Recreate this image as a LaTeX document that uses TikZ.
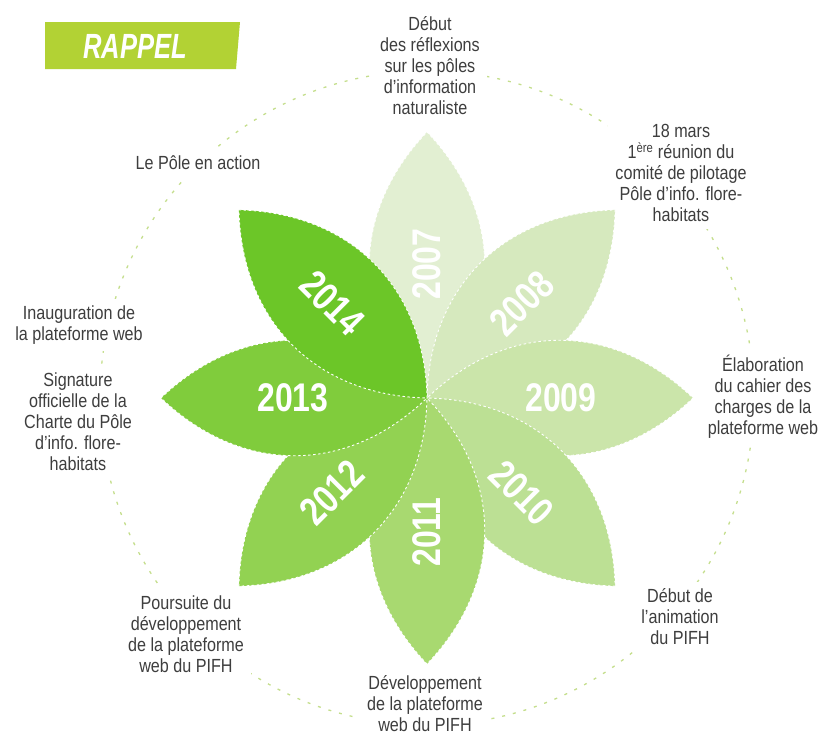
\documentclass[tikz,border=0pt]{standalone}
\usepackage{fontspec}
\setmainfont{Liberation Sans}[FakeStretch=0.85]
\newfontfamily\yearfont{Liberation Sans}[FakeStretch=0.8]
\newfontfamily\bannerfont{Liberation Sans}[FakeStretch=0.73]
\definecolor{c2007}{RGB}{226,239,210}
\definecolor{c2008}{RGB}{214,233,190}
\definecolor{c2009}{RGB}{203,229,170}
\definecolor{c2010}{RGB}{188,224,148}
\definecolor{c2011}{RGB}{168,217,112}
\definecolor{c2012}{RGB}{146,210,82}
\definecolor{c2013}{RGB}{128,204,60}
\definecolor{c2014}{RGB}{108,198,40}
\definecolor{bannergreen}{RGB}{178,210,52}
\definecolor{txtgray}{RGB}{62,62,62}
\definecolor{circgreen}{RGB}{196,222,140}
\tikzset{
  lbl/.style={align=center, text=txtgray, fill=white, inner sep=7pt,
    font=\fontsize{19}{21}\selectfont},
  yearlbl/.style={text=white, inner sep=0pt,
    font=\yearfont\bfseries\fontsize{40}{40}\selectfont},
  petalline/.style={draw=white, line width=0.9pt, dash pattern=on 2.5pt off 2.5pt},
  circline/.style={draw=circgreen, line width=1.3pt, dash pattern=on 3pt off 8pt},
}
\begin{document}
\begin{tikzpicture}[x=1pt, y=-1pt]
\useasboundingbox (0,0) rectangle (824,742);
\coordinate (C) at (427,398);
% dashed ring
\draw[circline] (C) circle (327pt);
% banner
\fill[bannergreen] (45,22) -- (240,22) -- (236,69) -- (45,69) -- cycle;
\node[text=white, inner sep=0pt, font=\bannerfont\bfseries\itshape\fontsize{35}{35}\selectfont] (rappel) at (135,46) {RAPPEL};
% texts
\node[lbl] (t2007) at (430,66) {Début\\des réflexions\\sur les pôles\\d’information\\naturaliste};
\node[lbl] (t2008) at (681,173) {18 mars\\1\textsuperscript{ère} réunion du\\comité de pilotage\\Pôle d’info. flore-\\habitats};
\node[lbl] (t2009) at (763,397) {Élaboration\\du cahier des\\charges de la\\plateforme web};
\node[lbl] (t2010) at (680,617) {Début de\\l’animation\\du PIFH};
\node[lbl] (t2011) at (425,704) {Développement\\de la plateforme\\web du PIFH};
\node[lbl] (t2012) at (186,634) {Poursuite du\\développement\\de la plateforme\\web du PIFH};
\node[lbl] (t2013a) at (79,325) {Inauguration de\\la plateforme web};
\node[lbl] (t2013b) at (78,422) {Signature\\officielle de la\\Charte du Pôle\\d’info. flore-\\habitats};
\node[lbl] (t2014) at (198,163) {Le Pôle en action};
% petals
\foreach \ang/\col in {90/c2007, 45/c2008, 0/c2009, -45/c2010, -90/c2011, -135/c2012, 180/c2013, 135/c2014}{
  \begin{scope}[shift={(C)}, rotate=\ang]
    \path[fill=\col, petalline] (0,0) .. controls (80,77) and (185,77) .. (266,0)
      .. controls (185,-77) and (80,-77) .. cycle;
  \end{scope}
}
\foreach \ang/\yr/\rot in {90/2007/90, 45/2008/45, 0/2009/0, -45/2010/-45, -90/2011/90, -135/2012/45, 180/2013/0, 135/2014/-45}{
  \begin{scope}[shift={(C)}, rotate=\ang]
    \node[yearlbl, rotate=\rot] (y\yr) at (134,0) {\yr};
  \end{scope}
}
\end{tikzpicture}
\end{document}
